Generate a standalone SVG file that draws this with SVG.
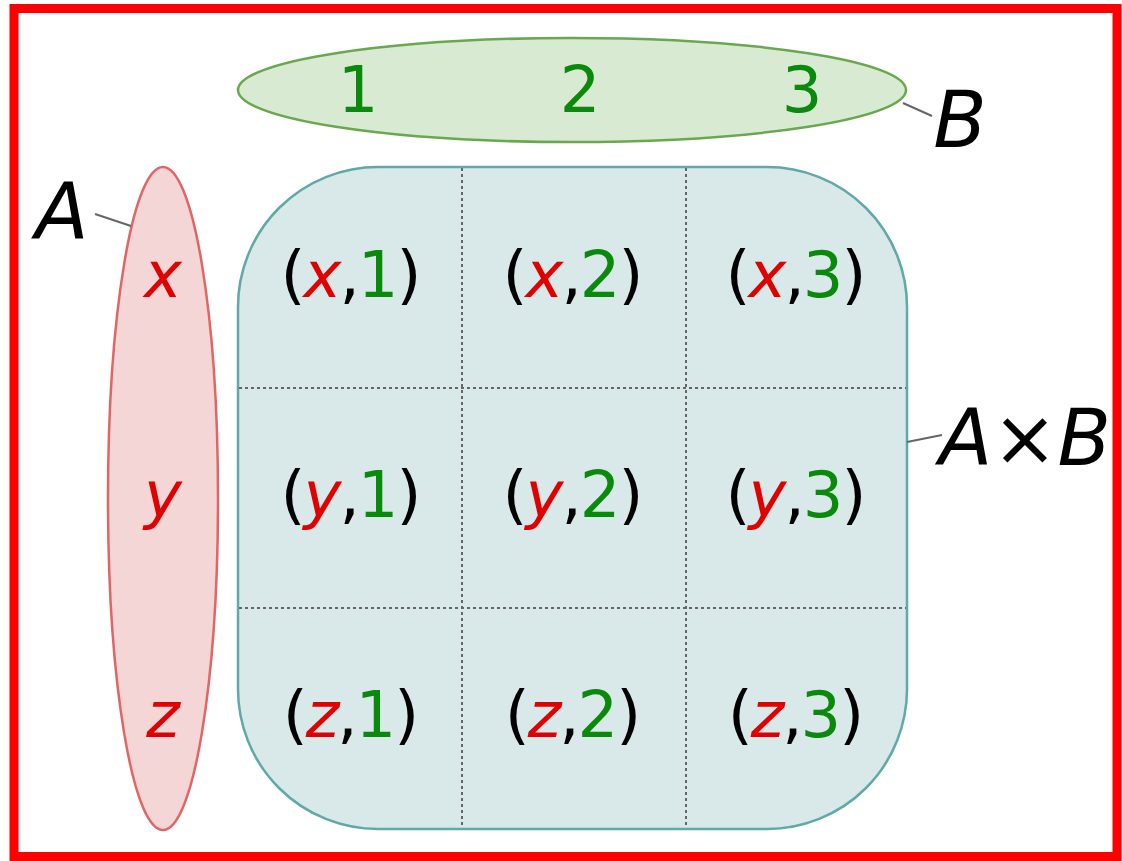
<svg xmlns="http://www.w3.org/2000/svg" width="1122" height="861" viewBox="0 0 1122 861">
<style>
.t{font-family:"DejaVu Sans","Liberation Sans",sans-serif;text-anchor:middle}
.cell{font-size:64px;letter-spacing:-2px;fill:#000}
.r{fill:#e00000;font-style:italic}
.g{fill:#0a8a0a}
.lbl{font-size:78px;font-style:italic;fill:#000}
.grid{stroke:#666;stroke-width:2;stroke-dasharray:3 3;fill:none}
.lead{stroke:#666;stroke-width:2;fill:none}
</style>
<rect x="0" y="0" width="1122" height="861" fill="#fff"/>
<rect x="14" y="8.5" width="1103" height="848" fill="none" stroke="#ff0000" stroke-width="9"/>
<g id="B">
<ellipse cx="572" cy="90" rx="334" ry="52" fill="#d9ead3" stroke="#6aa84f" stroke-width="2.5"/>
<text class="t g" x="358" y="112" font-size="64">1</text>
<text class="t g" x="580" y="112" font-size="64">2</text>
<text class="t g" x="802" y="112" font-size="64">3</text>
</g>
<g id="A">
<ellipse cx="163" cy="498.5" rx="55" ry="331.5" fill="#f4d6d6" stroke="#e06666" stroke-width="2.5"/>
<text class="t r" x="163" y="297" font-size="64">x</text>
<text class="t r" x="163" y="517" font-size="64">y</text>
<text class="t r" x="163" y="737" font-size="64">z</text>
</g>
<g id="AxB">
<rect x="238" y="167" width="669" height="662" rx="140" ry="140" fill="#d9e9e9" stroke="#5fa9a9" stroke-width="2.5"/>
<line class="grid" x1="462" y1="168" x2="462" y2="828"/>
<line class="grid" x1="686" y1="168" x2="686" y2="828"/>
<line class="grid" x1="239" y1="388" x2="906" y2="388"/>
<line class="grid" x1="239" y1="608" x2="906" y2="608"/>
<text class="t cell" x="350" y="297">(<tspan class="r">x</tspan>,<tspan class="g">1</tspan>)</text>
<text class="t cell" x="572" y="297">(<tspan class="r">x</tspan>,<tspan class="g">2</tspan>)</text>
<text class="t cell" x="795" y="297">(<tspan class="r">x</tspan>,<tspan class="g">3</tspan>)</text>
<text class="t cell" x="350" y="517">(<tspan class="r">y</tspan>,<tspan class="g">1</tspan>)</text>
<text class="t cell" x="572" y="517">(<tspan class="r">y</tspan>,<tspan class="g">2</tspan>)</text>
<text class="t cell" x="795" y="517">(<tspan class="r">y</tspan>,<tspan class="g">3</tspan>)</text>
<text class="t cell" x="350" y="737">(<tspan class="r">z</tspan>,<tspan class="g">1</tspan>)</text>
<text class="t cell" x="572" y="737">(<tspan class="r">z</tspan>,<tspan class="g">2</tspan>)</text>
<text class="t cell" x="795" y="737">(<tspan class="r">z</tspan>,<tspan class="g">3</tspan>)</text>
</g>
<g id="connectors">
<line class="lead" x1="95" y1="214" x2="131" y2="226"/>
<line class="lead" x1="903" y1="103" x2="932" y2="116"/>
<line class="lead" x1="907" y1="442" x2="942" y2="435"/>
</g>
<g id="labels">
<text class="t lbl" x="62" y="239">A</text>
<text class="t lbl" x="960" y="147">B</text>
<text class="t lbl" x="1025" y="465">A×B</text>
</g>
</svg>
